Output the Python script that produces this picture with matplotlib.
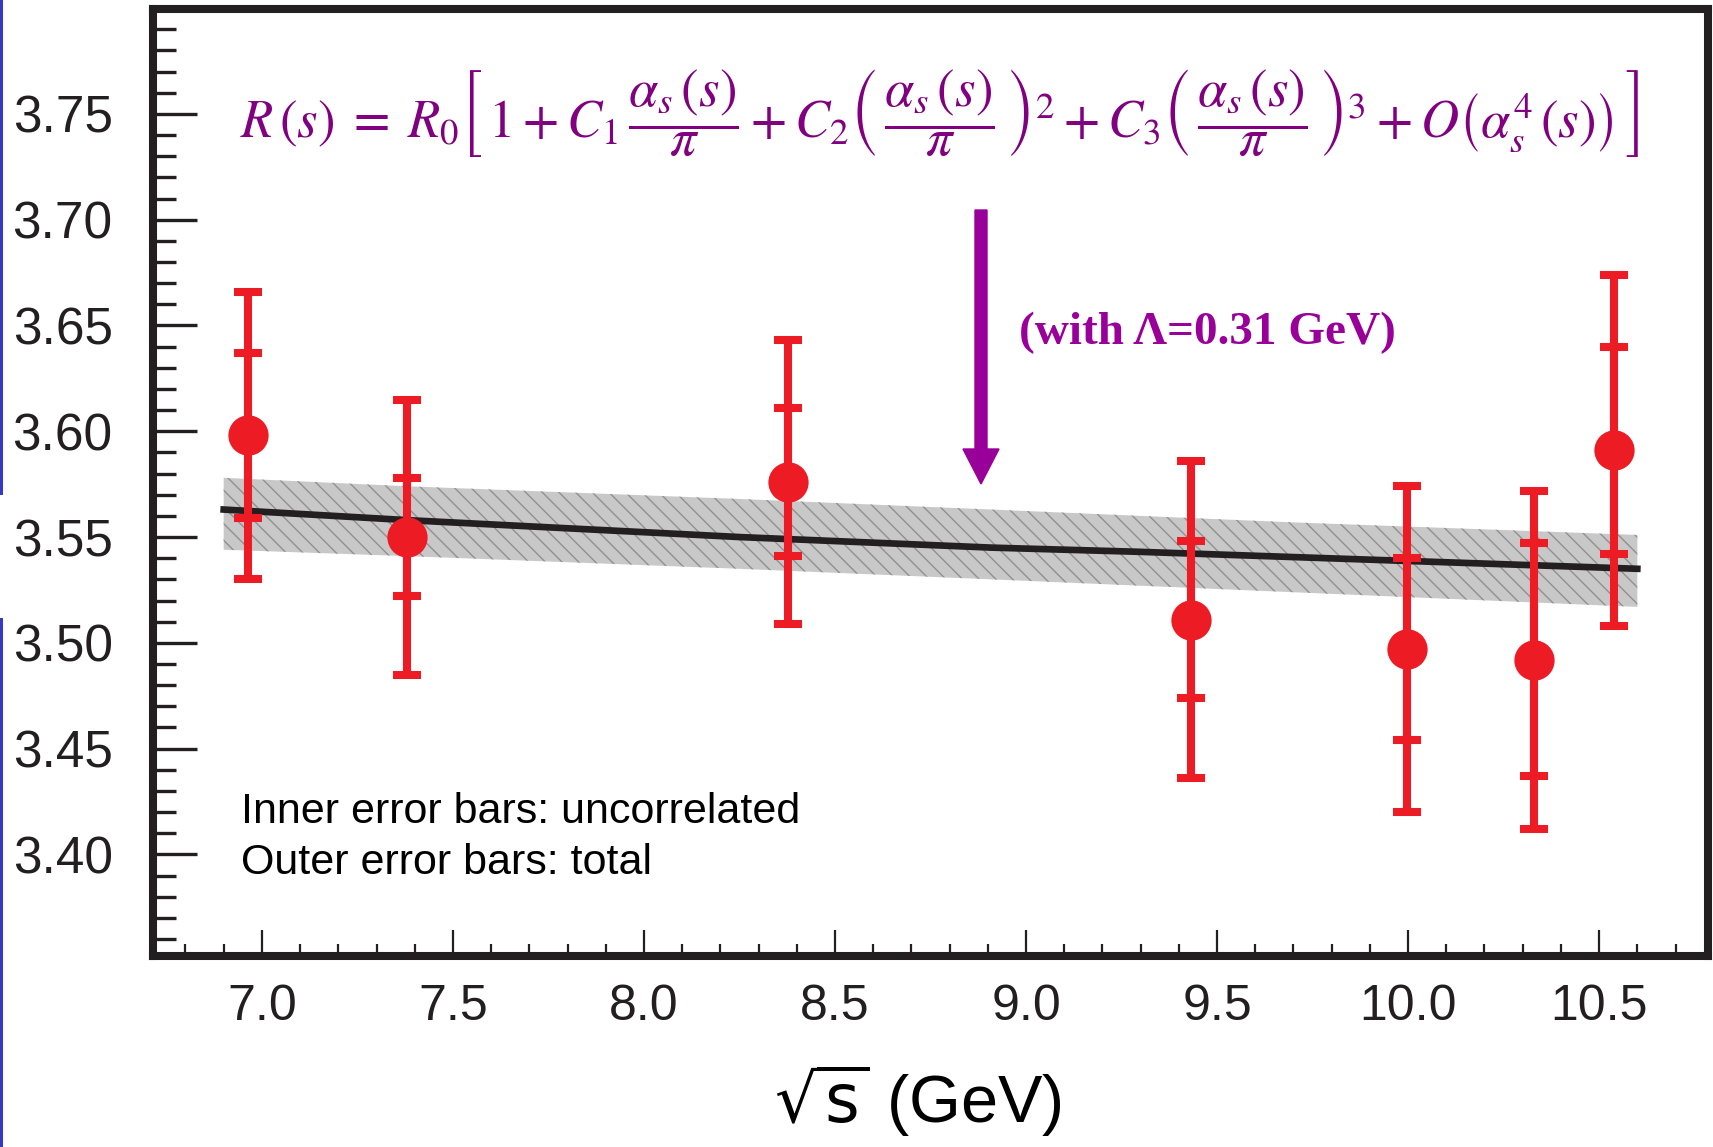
import matplotlib
matplotlib.use("Agg")
import matplotlib.pyplot as plt
from matplotlib.patches import FancyArrow, Rectangle
from matplotlib.ticker import MultipleLocator, FormatStrFormatter

# measured R values (CLEO-like scan)
sqrt_s = [6.964, 7.380, 8.376, 9.432, 9.996, 10.330, 10.538]
r_val = [3.598, 3.550, 3.576, 3.511, 3.497, 3.492, 3.591]
err_inner = [0.039, 0.028, 0.035, 0.037, 0.043, 0.055, 0.049]
err_total = [0.068, 0.065, 0.067, 0.075, 0.077, 0.080, 0.083]

# pQCD prediction and its uncertainty band
fit_x = [6.90, 7.38, 8.25, 8.91, 9.30, 9.69, 10.60]
fit_r = [3.563, 3.558, 3.550, 3.545, 3.543, 3.5406, 3.535]
band_hi = [3.578, 3.574, 3.568, 3.563, 3.560, 3.557, 3.551]
band_lo = [3.544, 3.541, 3.535, 3.530, 3.527, 3.524, 3.517]

x_ticks = [7.0, 7.5, 8.0, 8.5, 9.0, 9.5, 10.0, 10.5]
y_ticks = [3.40, 3.45, 3.50, 3.55, 3.60, 3.65, 3.70, 3.75]

RED = '#ed1c24'
DARK = '#231f20'
PURPLE = '#800080'
MAGENTA = '#990099'

plt.rcParams['font.family'] = ['Liberation Sans', 'DejaVu Sans']
plt.rcParams['mathtext.fontset'] = 'custom'
plt.rcParams['mathtext.rm'] = 'Liberation Sans'
plt.rcParams['mathtext.it'] = 'Liberation Sans:italic'
plt.rcParams['hatch.linewidth'] = 1.0

W, H = 1713, 1147
fig = plt.figure(figsize=(W / 100, H / 100), dpi=100)
ax = fig.add_axes([153 / W, 191 / H, 1555 / W, 947.5 / H])

# band: grey fill with diagonal hatching
ax.fill_between(fit_x, band_lo, band_hi, facecolor='#c8c8c8', edgecolor='none', lw=0, zorder=1)
ax.fill_between(fit_x, band_lo, band_hi, facecolor='none', edgecolor='#909090',
                hatch='\\\\', lw=0, zorder=1.1)
ax.plot(fit_x, fit_r, color=DARK, lw=4.8, zorder=2)

# outer (total) and inner (uncorrelated) error bars
ax.errorbar(sqrt_s, r_val, yerr=err_total, fmt='none', ecolor=RED,
            elinewidth=5.8, capsize=10, capthick=5.8, zorder=3)
ax.errorbar(sqrt_s, r_val, yerr=err_inner, fmt='none', ecolor=RED,
            elinewidth=5.8, capsize=10, capthick=5.8, zorder=3)
ax.plot(sqrt_s, r_val, 'o', color=RED, ms=29, mec='none', zorder=4)

ax.set_xlim(6.715, 10.785)
ax.set_ylim(3.352, 3.7998)
ax.set_xticks(x_ticks)
ax.set_yticks(y_ticks)
ax.xaxis.set_minor_locator(MultipleLocator(0.1))
ax.yaxis.set_minor_locator(MultipleLocator(0.01))
ax.xaxis.set_major_formatter(FormatStrFormatter('%.1f'))
ax.yaxis.set_major_formatter(FormatStrFormatter('%.2f'))

for sp in ax.spines.values():
    sp.set_linewidth(5.8)
    sp.set_color(DARK)

ax.tick_params(axis='y', which='major', direction='in', length=32, width=2.4,
               pad=29, labelsize=37, color=DARK, labelcolor=DARK)
ax.tick_params(axis='y', which='minor', direction='in', length=16.5, width=2.4, color=DARK)
ax.tick_params(axis='x', which='major', direction='in', length=19, width=1.6,
               pad=20, labelsize=36, color=DARK, labelcolor=DARK)
ax.tick_params(axis='x', which='minor', direction='in', length=8.6, width=1.6, color=DARK)

# annotations
ax.text(0.0565, 0.1404, 'Inner error bars: uncorrelated', transform=ax.transAxes,
        fontsize=31, va='baseline', color='black')
ax.text(0.0565, 0.0865, 'Outer error bars: total', transform=ax.transAxes,
        fontsize=31, va='baseline', color='black')

formula = (r'$R\,(s)\;=\;R_0\left[\,1 + C_1\,\dfrac{\alpha_s\,(s)}{\pi}'
           r' + C_2\left(\,\dfrac{\alpha_s\,(s)}{\pi}\,\right)^2'
           r' + C_3\left(\,\dfrac{\alpha_s\,(s)}{\pi}\,\right)^3'
           r' + O\left(\alpha_s^4\,(s)\right)\,\right]$')
fig.text(240 / W, 1 - 113.5 / H, formula, fontsize=38, ha='left', va='center',
         color=PURPLE, math_fontfamily='stix')

fig.text(1019 / W, 1 - 333 / H, '(with \u039b=0.31 GeV)', fontsize=34, fontweight='bold',
         family=['Liberation Serif', 'DejaVu Serif'], ha='left', va='center', color=MAGENTA)

fig.add_artist(FancyArrow(9.81, (H - 210) / 100, 0, -(484 - 210) / 100, width=0.12,
                          head_width=0.36, head_length=0.35, length_includes_head=True,
                          color=MAGENTA, transform=fig.dpi_scale_trans))

fig.text(918 / W, 1 - 1100 / H, r'$\sqrt{\mathrm{s}}$ (GeV)', fontsize=48,
         ha='center', va='center', color='black', math_fontfamily='dejavusans')

# slide edge marks on the left
fig.add_artist(Rectangle((0, 1 - 495 / H), 3 / W, 495 / H, transform=fig.transFigure,
                         color='#3838c8', lw=0))
fig.add_artist(Rectangle((0, 0), 3 / W, (H - 618) / H, transform=fig.transFigure,
                         color='#3838c8', lw=0))

fig.savefig('out.png', dpi=100)
